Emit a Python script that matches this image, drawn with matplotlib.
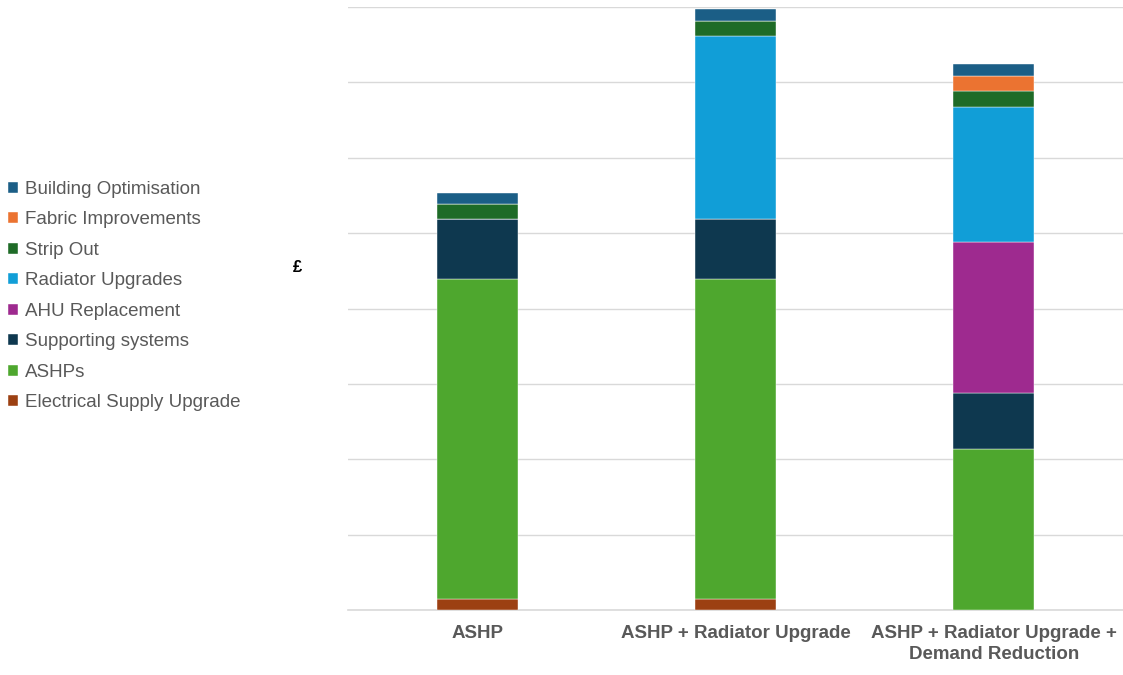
import matplotlib
matplotlib.use('Agg')

import matplotlib.pyplot as plt
import numpy as np

plt.rcParams['font.family'] = ['Liberation Sans', 'DejaVu Sans']

categories = ["ASHP", "ASHP + Radiator Upgrade", "ASHP + Radiator Upgrade +\nDemand Reduction"]

# stacked from bottom to top, in units of one gridline step
electrical = [0.15, 0.15, 0.0]
ashps = [4.24, 4.24, 2.14]
supporting = [0.80, 0.80, 0.74]
ahu = [0.0, 0.0, 2.00]
radiator = [0.0, 2.43, 1.80]
strip_out = [0.19, 0.20, 0.20]
fabric = [0.0, 0.0, 0.20]
building_opt = [0.15, 0.16, 0.16]

series = [
    ("Electrical Supply Upgrade", electrical, "#9C4012"),
    ("ASHPs", ashps, "#4EA72E"),
    ("Supporting systems", supporting, "#0E384F"),
    ("AHU Replacement", ahu, "#9E2A8F"),
    ("Radiator Upgrades", radiator, "#119ED7"),
    ("Strip Out", strip_out, "#1E6B27"),
    ("Fabric Improvements", fabric, "#EB7331"),
    ("Building Optimisation", building_opt, "#1B5E86"),
]

fig = plt.figure(figsize=(11.23, 6.75), dpi=100)
ax = fig.add_axes([0.31, 0.0963, 0.69, 0.8933])

x = np.arange(len(categories))
bottom = np.zeros(len(categories))
handles = []
for name, vals, col in series:
    b = ax.bar(x, vals, width=0.314, bottom=bottom, color=col, label=name,
               edgecolor='white', linewidth=0.3, zorder=3)
    handles.append(b)
    bottom += np.array(vals)

ax.set_xlim(-0.5, 2.5)
ax.set_ylim(0, 8)
ax.set_yticks(range(9))
ax.set_yticklabels([])
ax.tick_params(axis='both', length=0)
ax.grid(axis='y', color='#D9D9D9', linewidth=1, zorder=0)
for s in ['top', 'right', 'left']:
    ax.spines[s].set_visible(False)
ax.spines['bottom'].set_color('#D9D9D9')
ax.spines['bottom'].set_linewidth(1.2)

ax.set_xticks(x)
ax.set_xticklabels(categories, fontsize=13.5, fontweight='bold', color='#595959',
                   linespacing=1.3)
ax.tick_params(axis='x', pad=11)

fig.text(0.265, 0.603, "£", fontsize=12, fontweight='bold', color='black', va='center', ha='center')

fig.legend(handles[::-1], [s[0] for s in series][::-1], loc='upper left',
           bbox_to_anchor=(-0.008, 0.757), frameon=False, fontsize=13.5,
           labelcolor='#595959', handlelength=0.55, handleheight=0.55,
           handletextpad=0.35, labelspacing=0.72)

fig.savefig("out.png", dpi=100)
